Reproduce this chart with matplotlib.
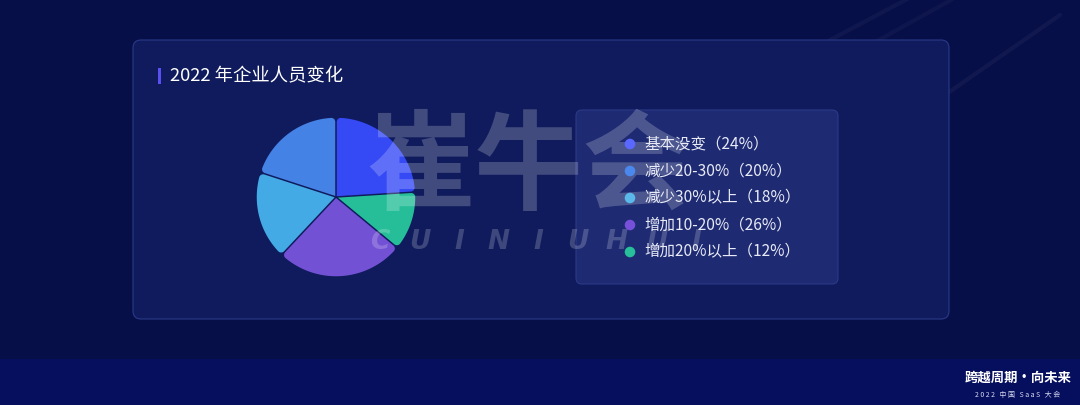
import numpy as np
import matplotlib
matplotlib.use("Agg")
import matplotlib.pyplot as plt
from matplotlib.patches import FancyBboxPatch, Rectangle, Polygon

plt.rcParams['font.family'] = ['Noto Sans CJK SC', 'DejaVu Sans']

# ---------------- data ----------------
title = "2022 年企业人员变化"
categories = ["基本没变", "减少20-30%", "减少30%以上", "增加10-20%", "增加20%以上"]
values = [24, 20, 18, 26, 12]
pie_colors = ["#3549F5", "#4582E6", "#44AAE6", "#7351D5", "#26BE98"]
dot_colors = ["#5A68FF", "#4A88EE", "#5AB8EA", "#7650D8", "#27C09A"]

W, H = 1080, 405
fig = plt.figure(figsize=(W / 100, H / 100), dpi=100)

# background axes in pixel coordinates
bg = fig.add_axes([0, 0, 1, 1], zorder=0)
bg.set_xlim(0, W)
bg.set_ylim(H, 0)
bg.axis('off')
bg.add_patch(Rectangle((0, 0), W, H, fc="#070F48", ec="none", zorder=0))
bg.add_patch(Rectangle((0, 359), W, H - 359, fc="#060E5E", ec="none", zorder=0.5))
# faint light streaks top-right
for (x0, y0, x1, y1, a) in [(830, 40, 915, -5, 0.035), (870, 45, 960, -5, 0.03),
                            (945, 95, 1060, 15, 0.04)]:
    bg.plot([x0, x1], [y0, y1], color="white", alpha=a, lw=3, zorder=0.6,
            solid_capstyle="round")

# card
bg.add_patch(FancyBboxPatch((133, 40), 816, 279,
                            boxstyle="round,pad=0,rounding_size=8",
                            fc="#0F1B5C", ec="#2A3A88", lw=0.8, zorder=1))
# title
bg.add_patch(Rectangle((158, 68), 3, 16, fc="#5A4FF0", ec="none", zorder=2))
bg.text(170, 76, title, fontsize=13.2, color="white", va="center", ha="left", zorder=2)

# bottom-right logo
bg.text(1018, 378, "跨越周期·向未来", fontsize=9.6, fontweight="bold", color="white",
        ha="center", va="center", zorder=2)
bg.text(1018, 395, "2 0 2 2   中 国   S a a S   大 会", fontsize=5, color="#D8DCF0",
        ha="center", va="center", zorder=2)

# ---------------- pie ----------------
cx, cy, half_box = 336, 197, 85
pax = fig.add_axes([(cx - half_box) / W, (H - cy - half_box) / H,
                    2 * half_box / W, 2 * half_box / H], zorder=1)
pax.patch.set_alpha(0)

R = 80
start = 90 - 360 * values[0] / sum(values)
wedges, _ = pax.pie(values, colors=pie_colors, startangle=start,
                    counterclock=True, radius=R, center=(0, 0), frame=True)
pax.set_xlim(-half_box, half_box)
pax.set_ylim(-half_box, half_box)
pax.set_aspect('equal')
pax.axis('off')

g = 0.75   # half of the dark gap between slices (px)
c = 4.0    # rounded outer-corner radius (px)


def arc(center, r, a0, a1, n=20):
    t = np.linspace(a0, a1, n)
    return list(zip(center[0] + r * np.cos(t), center[1] + r * np.sin(t)))


for w in wedges:
    t1, t2 = np.radians(w.theta1), np.radians(w.theta2)
    Ro = w.r - g
    half = (t2 - t1) / 2
    mid = (t1 + t2) / 2
    ar = g / np.sin(half)
    apex = (ar * np.cos(mid), ar * np.sin(mid))
    da = np.arcsin((g + c) / (Ro - c))
    # first corner
    p1 = t1 + da
    C1 = ((Ro - c) * np.cos(p1), (Ro - c) * np.sin(p1))
    u1 = np.array([np.cos(t1), np.sin(t1)])
    n1 = np.array([-np.sin(t1), np.cos(t1)])
    foot1 = tuple(np.dot(C1, u1) * u1 + g * n1)
    # second corner
    p2 = t2 - da
    C2 = ((Ro - c) * np.cos(p2), (Ro - c) * np.sin(p2))
    u2 = np.array([np.cos(t2), np.sin(t2)])
    n2 = np.array([np.sin(t2), -np.cos(t2)])
    foot2 = tuple(np.dot(C2, u2) * u2 + g * n2)
    pts = [apex, foot1]
    pts += arc(C1, c, t1 - np.pi / 2, p1)
    pts += arc((0, 0), Ro, p1, p2, 120)
    pts += arc(C2, c, p2, t2 + np.pi / 2)
    pts += [foot2]
    col = w.get_facecolor()
    pax.add_patch(Polygon(pts, closed=True, fc=col, ec="none", zorder=2))
    w.set_visible(False)

# ---------------- overlay: legend + watermark ----------------
ov = fig.add_axes([0, 0, 1, 1], zorder=2)
ov.set_xlim(0, W)
ov.set_ylim(H, 0)
ov.axis('off')
ov.patch.set_alpha(0)

ov.add_patch(FancyBboxPatch((576, 110), 262, 174,
                            boxstyle="round,pad=0,rounding_size=6",
                            fc="#1E2A72", ec="#2C3A88", lw=0.8, zorder=1))

# watermark
ov.text(366, 170, "崔牛会", fontsize=78, fontweight="bold", color="white", alpha=0.21,
        ha="left", va="center", zorder=2)
for i, ch in enumerate("CUINIUHUI"):
    ov.text(np.linspace(380, 696, 9)[i], 242, ch, fontsize=19, fontweight="bold",
            fontstyle="italic", color="white", alpha=0.2, ha="center", va="center",
            family="DejaVu Sans", zorder=2)

# legend
ys = 144 + 27 * np.arange(len(categories))
ov.scatter(np.full(len(categories), 630), ys, s=58, c=dot_colors, zorder=3,
           linewidths=0)
for y, name, v in zip(ys, categories, values):
    ov.text(644, y, f"{name}（{v}%）", fontsize=11.2, color="#E8EAF6",
            ha="left", va="center", zorder=3)

fig.savefig("out.png", dpi=100)
